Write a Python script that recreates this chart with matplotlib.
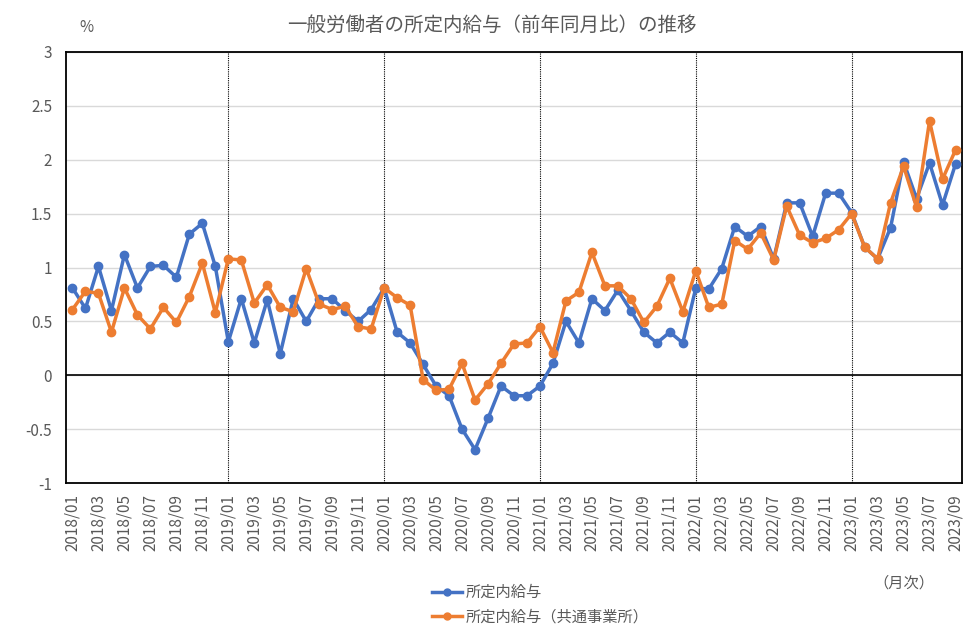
import matplotlib
matplotlib.use("Agg")
import matplotlib.pyplot as plt
from matplotlib.lines import Line2D

plt.rcParams['font.family'] = ['Noto Sans CJK JP', 'DejaVu Sans']

title = "一般労働者の所定内給与（前年同月比）の推移"
series_names = ["所定内給与", "所定内給与（共通事業所）"]
months = [f"{y}/{m:02d}" for y in range(2018, 2024) for m in range(1, 13)][:69]

blue = [0.81, 0.62, 1.01, 0.60, 1.12, 0.81, 1.01, 1.02, 0.91, 1.31, 1.41, 1.01,
        0.31, 0.71, 0.30, 0.70, 0.20, 0.71, 0.50, 0.71, 0.71, 0.60, 0.50, 0.61,
        0.81, 0.40, 0.30, 0.10, -0.10, -0.19, -0.50, -0.69, -0.40, -0.10, -0.19, -0.19,
        -0.10, 0.11, 0.50, 0.30, 0.71, 0.60, 0.79, 0.60, 0.40, 0.30, 0.40, 0.30,
        0.81, 0.80, 0.99, 1.38, 1.29, 1.38, 1.08, 1.60, 1.60, 1.29, 1.69, 1.69,
        1.51, 1.19, 1.08, 1.37, 1.98, 1.64, 1.97, 1.58, 1.96]
orange = [0.61, 0.78, 0.76, 0.40, 0.81, 0.56, 0.43, 0.63, 0.49, 0.73, 1.04, 0.58,
          1.08, 1.07, 0.67, 0.84, 0.63, 0.59, 0.99, 0.66, 0.61, 0.64, 0.45, 0.43,
          0.81, 0.72, 0.65, -0.04, -0.14, -0.13, 0.11, -0.23, -0.08, 0.11, 0.29, 0.30,
          0.45, 0.21, 0.69, 0.77, 1.14, 0.83, 0.83, 0.71, 0.49, 0.64, 0.90, 0.59,
          0.97, 0.63, 0.66, 1.25, 1.17, 1.32, 1.07, 1.57, 1.30, 1.23, 1.27, 1.35,
          1.50, 1.19, 1.08, 1.60, 1.94, 1.56, 2.36, 1.82, 2.09]
yticks = [-1, -0.5, 0, 0.5, 1, 1.5, 2, 2.5, 3]
ytick_labels = ["-1", "-0.5", "0", "0.5", "1", "1.5", "2", "2.5", "3"]
year_starts = [m for m in months if m.endswith("/01") and not m.startswith("2018")]

gray = "#595959"
c_blue = "#4472C4"
c_orange = "#ED7D31"

fig = plt.figure(figsize=(9.8, 6.29), dpi=100)
ax = fig.add_axes([66/980, 1-483/629, (962-66)/980, (483-52)/629])

x = list(range(len(months)))
ax.plot(x, blue, color=c_blue, lw=2.5, marker='o', ms=6, label=series_names[0], zorder=3)
ax.plot(x, orange, color=c_orange, lw=2.5, marker='o', ms=6, label=series_names[1], zorder=4)

ax.set_xlim(-0.5, len(months) - 0.5)
ax.set_ylim(-1, 3)
ax.set_yticks(yticks)
ax.set_yticklabels(ytick_labels)
ax.yaxis.grid(True, color="#D9D9D9", lw=1)
ax.set_axisbelow(True)
ax.axhline(0, color="black", lw=1.2, zorder=2)
for m in year_starts:
    ax.axvline(months.index(m), color="black", lw=0.8, ls=(0, (1, 1)), zorder=2)

ax.set_xticks(x[::2])
ax.set_xticklabels(months[::2], rotation=90)
ax.tick_params(axis='both', length=0, colors=gray, labelsize=11)
ax.tick_params(axis='x', pad=8)
ax.tick_params(axis='y', pad=10)
for s in ax.spines.values():
    s.set_color("black")
    s.set_linewidth(1.3)

fig.text(492/980, 1-25/629, title, ha='center', va='center', fontsize=14, color=gray)
fig.text(86/980, 1-28/629, "%", ha='center', va='center', fontsize=11, color=gray)
fig.text(904/980, 1-583/629, "（月次）", ha='center', va='center', fontsize=11, color=gray)

handles = [Line2D([], [], color=c_blue, lw=2.5, marker='o', ms=5),
           Line2D([], [], color=c_orange, lw=2.5, marker='o', ms=5)]
fig.legend(handles, series_names, loc='center', bbox_to_anchor=(540/980, 1-605/629),
           frameon=False, fontsize=11, labelcolor=gray, handlelength=2.0,
           handletextpad=0.2, labelspacing=0.5, borderpad=0)

fig.savefig("out.png", dpi=100)
